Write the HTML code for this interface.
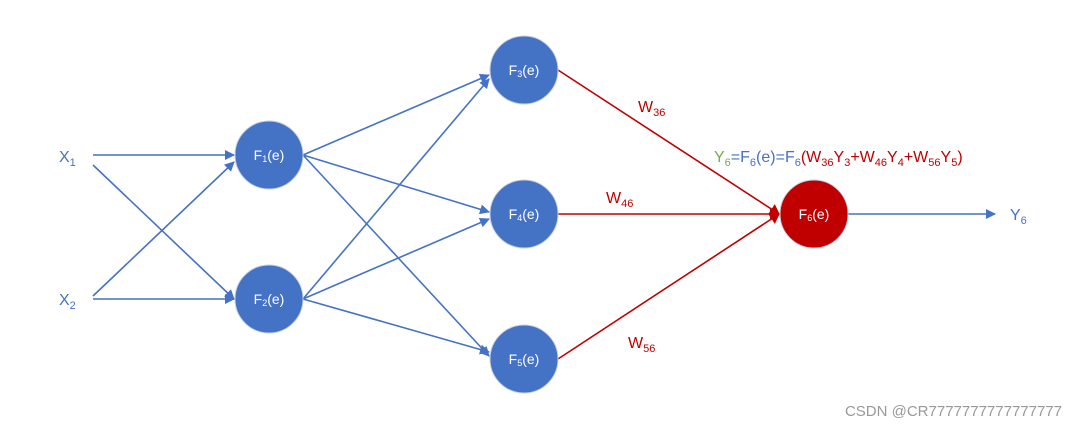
<!DOCTYPE html>
<html><head><style>
body{margin:0;background:#fff;width:1077px;height:427px;overflow:hidden;font-family:"Liberation Sans","DejaVu Sans",sans-serif}
</style></head><body>
<svg width="1077" height="427" viewBox="0 0 1077 427" xmlns="http://www.w3.org/2000/svg" style="font-family:'Liberation Sans','DejaVu Sans',sans-serif">
<defs>
<marker id="b" markerWidth="10" markerHeight="10" refX="9" refY="5" orient="auto" markerUnits="userSpaceOnUse"><path d="M0,0 L10,5 L0,10 z" fill="#4472c4"/></marker>
<marker id="r" markerWidth="10" markerHeight="12" refX="9" refY="6" orient="auto" markerUnits="userSpaceOnUse"><path d="M0,0 L10,6 L0,12 z" fill="#c00000"/></marker>
</defs>
<g stroke="#4472c4" stroke-width="1.6" fill="none">
<line x1="93" y1="155" x2="234" y2="155" marker-end="url(#b)"/>
<line x1="93" y1="165" x2="234" y2="299" marker-end="url(#b)"/>
<line x1="93" y1="299" x2="234" y2="299" marker-end="url(#b)"/>
<line x1="93" y1="296" x2="234" y2="162" marker-end="url(#b)"/>
<line x1="303" y1="155" x2="489" y2="75" marker-end="url(#b)"/>
<line x1="303" y1="155" x2="489" y2="212" marker-end="url(#b)"/>
<line x1="303" y1="155" x2="489" y2="356" marker-end="url(#b)"/>
<line x1="303" y1="299" x2="489" y2="79" marker-end="url(#b)"/>
<line x1="303" y1="299" x2="489" y2="219" marker-end="url(#b)"/>
<line x1="303" y1="299" x2="489" y2="352" marker-end="url(#b)"/>
<line x1="848" y1="214" x2="995" y2="214" marker-end="url(#b)"/>
</g>
<g stroke="#c00000" stroke-width="1.6" fill="none">
<line x1="558" y1="70" x2="779" y2="214" marker-end="url(#r)"/>
<line x1="558" y1="214" x2="779" y2="214" marker-end="url(#r)"/>
<line x1="558" y1="359" x2="779" y2="214" marker-end="url(#r)"/>
</g>
<g stroke="#c8d0e0" stroke-width="1">
<circle cx="269" cy="155" r="34" fill="#4472c4"/>
<circle cx="269" cy="299" r="34" fill="#4472c4"/>
<circle cx="524" cy="70" r="34" fill="#4472c4"/>
<circle cx="524" cy="214" r="34" fill="#4472c4"/>
<circle cx="524" cy="359" r="34" fill="#4472c4"/>
<circle cx="814" cy="214" r="34" fill="#c00000"/>
</g>
<g fill="#fff" font-size="14" text-anchor="middle">
<text x="269" y="160">F<tspan font-size="9" dy="2">1</tspan><tspan dy="-2">(e)</tspan></text>
<text x="269" y="304">F<tspan font-size="9" dy="2">2</tspan><tspan dy="-2">(e)</tspan></text>
<text x="524" y="75">F<tspan font-size="9" dy="2">3</tspan><tspan dy="-2">(e)</tspan></text>
<text x="524" y="219">F<tspan font-size="9" dy="2">4</tspan><tspan dy="-2">(e)</tspan></text>
<text x="524" y="364">F<tspan font-size="9" dy="2">5</tspan><tspan dy="-2">(e)</tspan></text>
<text x="814" y="219">F<tspan font-size="9" dy="2">6</tspan><tspan dy="-2">(e)</tspan></text>
</g>
<g fill="#4472c4" font-size="16">
<text x="59" y="162">X<tspan font-size="11" dy="4">1</tspan></text>
<text x="59" y="305">X<tspan font-size="11" dy="4">2</tspan></text>
<text x="1010" y="220">Y<tspan font-size="11" dy="4">6</tspan></text>
</g>
<g fill="#c00000" font-size="16">
<text x="638" y="112">W<tspan font-size="11" dy="4">36</tspan></text>
<text x="606" y="203">W<tspan font-size="11" dy="4">46</tspan></text>
<text x="628" y="348">W<tspan font-size="11" dy="4">56</tspan></text>
</g>
<text x="714" y="162" font-size="16"><tspan fill="#70ad47">Y</tspan><tspan fill="#70ad47" font-size="11" dy="4">6</tspan><tspan fill="#4472c4" dy="-4">=F</tspan><tspan fill="#4472c4" font-size="11" dy="4">6</tspan><tspan fill="#4472c4" dy="-4">(e)=F</tspan><tspan fill="#4472c4" font-size="11" dy="4">6</tspan><tspan fill="#c00000" dy="-4">(W</tspan><tspan fill="#c00000" font-size="11" dy="4">36</tspan><tspan fill="#c00000" dy="-4">Y</tspan><tspan fill="#c00000" font-size="11" dy="4">3</tspan><tspan fill="#c00000" dy="-4">+W</tspan><tspan fill="#c00000" font-size="11" dy="4">46</tspan><tspan fill="#c00000" dy="-4">Y</tspan><tspan fill="#c00000" font-size="11" dy="4">4</tspan><tspan fill="#c00000" dy="-4">+W</tspan><tspan fill="#c00000" font-size="11" dy="4">56</tspan><tspan fill="#c00000" dy="-4">Y</tspan><tspan fill="#c00000" font-size="11" dy="4">5</tspan><tspan fill="#c00000" dy="-4">)</tspan></text>
<text x="1062" y="416" font-size="15" fill="#999" text-anchor="end">CSDN @CR7777777777777777</text>
</svg>
</body></html>
